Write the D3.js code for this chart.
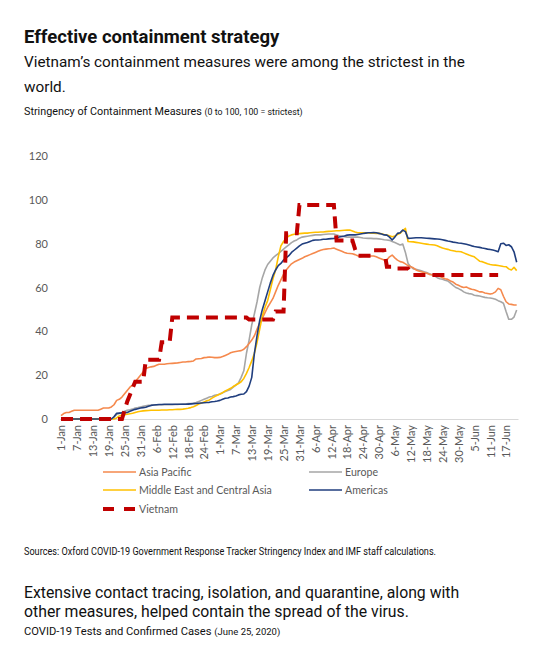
<!DOCTYPE html>
<html><head><meta charset="utf-8">
<script src="https://cdn.jsdelivr.net/npm/d3@7"></script>
<style>
html,body{margin:0;padding:0;background:#fff;}
svg{display:block;}
</style></head>
<body>
<svg id="chart" width="558" height="667"></svg>
<script>
// ---------- data ----------
const startDate = "2020-01-01";
const tickLabels = ["1-Jan","7-Jan","13-Jan","19-Jan","25-Jan","31-Jan","6-Feb","12-Feb","18-Feb","24-Feb","1-Mar","7-Mar","13-Mar","19-Mar","25-Mar","31-Mar","6-Apr","12-Apr","18-Apr","24-Apr","30-Apr","6-May","12-May","18-May","24-May","30-May","5-Jun","11-Jun","17-Jun"];
const yTicks = [0,20,40,60,80,100,120];

// daily values from 1-Jan-2020
const asiaPacific = [1.5,2.5,3,3,3.5,4,4,4,4,4,4,4,4,4,4,
4.5,5,5,5,5.5,6.5,8.5,9,10,11.5,13,14.5,15.5,17,18.5,20,21.5,23,23.5,23.8,24,24.5,25,25,25,25.2,25.3,25.4,25.5,25.6,25.8,26,26,26.2,26.3,26.5,
27.4,27.5,27.6,28,28.1,28.3,28.2,28,28,28.1,28.5,29,29.5,30.2,30.6,30.8,31,31.2,31.8,33,34.5,36,38,41,43.8,46,48.5,51,53,
55,58,61,63.5,66,68,69.5,70.8,71.6,72.2,72.8,73.3,74,74.5,75,75.5,76,76.5,77,77.3,77.5,77.7,77.8,78,77.5,77,76.5,76,75.6,75.5,75.4,75,74.5,74,
74.3,74.5,74.2,74.4,74.4,74,73.5,73,72.5,72.5,74,74.8,73.5,72.5,71.8,71.5,70.8,70,69.5,69,68,67.5,67.2,66.8,66.5,66,65.8,65.7,65.3,65,64.5,64,63.7,
63,62.5,61.5,61,60.4,60,60.2,59.6,59.2,59,58.5,58,58,57.5,57.3,57,57.3,58,59.6,59,56,53.5,52.5,52.3,52,52];

const europe = [0,0,0,0,0,0,0,0,0,0,0,0,0,0,0,0,0,0,0,0,
1,2,2.5,3,3.5,4,4.2,4.5,5,5.2,5.5,5.8,6,6.2,6.3,
6.4,6.4,6.5,6.5,6.5,6.5,6.5,6.5,6.6,6.6,6.7,6.8,6.8,7,7,
7.2,7.5,8,8.5,9,9.5,10,10.3,10.8,11,11.4,12,12.5,13,13.5,14.5,15.5,16.5,
19,22,30,36,43,48,53.5,60,64.5,68,70.5,72,73.5,74.5,75.5,76.5,77.5,78.5,79.5,80.5,
81.2,81.7,82.5,83,83.2,83.4,83.6,83.8,84,84,84,84.2,84.3,84.4,84.4,84.4,84,83.6,83.4,83.2,83,
83,83,83,83,82.8,82.6,82.5,82.4,82.4,82.3,82.3,82.2,82,81.8,81.7,81.5,81,80.5,80,79.4,79.8,
76,71,69.5,68.5,68.3,68,67.6,67.2,66.8,66.3,65.8,65.3,64.5,64,63.8,63.3,63,62,61,60,59.5,58.9,
58,57.5,57.2,57,56.5,56.3,56.1,55.8,55.5,55.3,55.2,55,54.6,54,53.5,52.8,49,45.5,45.5,46.5,49.7];

const middleEast = [0,0,0,0,0,0,0,0,0,0,0,0,0,0,0,0,0,0,0,0,0,
0.5,1.4,1.8,2,2.2,2.4,2.6,3,3.3,3.5,3.7,3.8,3.9,4,
4,4,4,4.1,4.1,4.1,4.2,4.2,4.3,4.4,4.4,4.5,4.7,4.9,5.2,5.6,
6.2,6.8,7.3,7.8,8.3,8.7,9.5,10.2,10.8,11.4,12,12.8,13.4,14,14.8,15.5,16.2,17,18.5,
20.8,23.5,26.5,30,35,41,47,51,54,59,64,68,74,79,81,82.5,83.5,84,84.3,84.5,
84.6,84.7,84.8,84.8,85,85.1,85.2,85.2,85.3,85.3,85.5,85.6,85.7,85.8,85.9,85.9,86,86.1,86.2,86.2,
85.8,85.3,85,85,85,85,84.9,84.8,84.8,84.7,84.7,84.5,84.2,84,83.6,83.2,83.5,84.2,84.7,86,87,
81,80.9,80.8,80.6,80.4,80.2,80,79.8,79.6,79.5,79.4,79,78.5,78,77.7,77.4,77,76.8,76.5,76.4,76.3,
75.8,75.3,74.8,74.4,74,73,72,71.8,71.3,70.8,70.5,70.3,70.2,70,69.8,69.6,69.5,68.5,68,69.2,67.7];

const americas = [0,0,0,0,0,0,0,0,0,0,0,0,0,0,0,0,0,0,0,0,
1,2.6,2.7,2.8,2.9,3,3.5,4,4.4,4.7,5,5.2,5.4,5.8,6.2,6.4,6.5,
6.6,6.6,6.7,6.7,6.7,6.7,6.7,6.7,6.7,6.7,6.7,6.8,6.9,7,7.1,7.2,7.3,7.4,7.5,7.6,
7.9,8,8.2,8.5,9,9.5,9.6,10,10.2,10.5,11,11.3,11.4,12.5,15,19,30,38,45,50,
54,58,62,65.5,68,70,71,72.5,73.5,74.5,76,77,78,79,79.8,80.2,80.5,81,81.5,81.7,
81.7,81.8,82,82,82.2,82.3,82.4,82.6,83,83.3,83.5,83.9,84,84,84,84.2,84.4,84.6,84.8,85,
85,85.1,85,84.7,84.4,84,83.9,83,81.7,83,84.7,85,86.2,85.5,82.4,82.5,82.6,82.7,82.7,82.7,
82.6,82.5,82.4,82.3,82.2,82.1,82,81.8,81.5,81.2,81,80.7,80.5,80.3,80.2,80,79.7,79.4,79,78.7,
78.5,78.3,78,77.8,77.5,77.3,77.1,76.8,76.3,80,80.2,79.2,79.5,78.6,76.3,71.5];

// Vietnam: dates where the index changes, and values
const vietnamDates = ["1-Jan","24-Jan","25-Jan","26-Jan","27-Jan","28-Jan","29-Jan","1-Feb","2-Feb","7-Feb","8-Feb","11-Feb","12-Feb","11-Mar","12-Mar","21-Mar","22-Mar","25-Mar","26-Mar","30-Mar","31-Mar","13-Apr","14-Apr","20-Apr","21-Apr","22-Apr","27-Apr","28-Apr","2-May","3-May","6-May","7-May","11-May","12-May","13-May","14-Jun"];
const vietnamValues = [0,0,4,8,11,14,17,17,27,27,35,35,46.3,46.3,45.4,45.4,49,49,84.7,84.7,97.6,97.6,81.5,81.5,77.5,74.5,74.5,77,77,69.5,69.5,68.7,68.7,67,65.7,65.7];

const seriesNames = ["Asia Pacific","Europe","Middle East and Central Asia","Americas","Vietnam"];
const seriesColors = ["#F5894D","#A6A6A6","#FFC000","#203E7E","#C00000"];

// ---------- drawing ----------
const svg = d3.select("#chart");
const parseD = d3.timeParse("%d-%b-%Y");
const d0 = d3.timeParse("%Y-%m-%d")(startDate);
const dayOf = i => d3.timeDay.offset(d0, i);
const lbl = s => parseD(s + "-2020");

const nDays = asiaPacific.length;
const x = d3.scaleTime()
  .domain([d3.timeHour.offset(d0, -12), d3.timeHour.offset(dayOf(nDays - 1), 12)])
  .range([59.7, 518]);
const y = d3.scaleLinear().domain([0, 120]).range([419, 156]);

const font = "Roboto, 'Noto Sans', sans-serif";
const axisFont = "Lato, Carlito, sans-serif";

// titles
svg.append("text").attr("x", 24).attr("y", 43).attr("font-family", font)
  .attr("font-weight", 700).attr("font-size", 18.5).attr("fill", "#111")
  .text("Effective containment strategy");
svg.append("text").attr("x", 24).attr("y", 67).attr("font-family", font)
  .attr("font-size", 15.3).attr("fill", "#111")
  .text("Vietnam\u2019s containment measures were among the strictest in the");
svg.append("text").attr("x", 24).attr("y", 92).attr("font-family", font)
  .attr("font-size", 15.3).attr("fill", "#111").text("world.");
const st = svg.append("text").attr("x", 24).attr("y", 115).attr("font-family", font)
  .attr("font-size", 10.8).attr("fill", "#111");
st.append("tspan").text("Stringency of Containment Measures ");
st.append("tspan").attr("font-size", 8.8).text("(0 to 100, 100 = strictest)");

// axes
const gx = svg.append("g").attr("transform", `translate(0,${y(0)})`)
  .call(d3.axisBottom(x).tickValues(tickLabels.map(lbl)).tickSize(0)
    .tickFormat((d, i) => tickLabels[i]));
gx.select(".domain").attr("stroke", "#D9D9D9").attr("stroke-width", 1.2);
gx.selectAll("text").attr("font-family", axisFont).attr("font-size", 11)
  .attr("fill", "#595959")
  .attr("transform", "rotate(-90)").attr("text-anchor", "end")
  .attr("x", -6).attr("y", 0).attr("dy", "0.35em");

const gy = svg.append("g").attr("transform", "translate(48,0)")
  .call(d3.axisLeft(y).tickValues(yTicks).tickSize(0).tickPadding(0));
gy.select(".domain").remove();
gy.selectAll("text").attr("font-family", axisFont).attr("font-size", 11).attr("fill", "#595959");

// lines
const line = d3.line().x(d => x(d[0])).y(d => y(d[1]));
const regional = [asiaPacific, europe, middleEast, americas];
const drawOrder = [1, 0, 2, 3];
drawOrder.forEach(k => {
  const pts = regional[k].map((v, i) => [dayOf(i), v]);
  svg.append("path").datum(pts).attr("d", line).attr("fill", "none")
    .attr("stroke", seriesColors[k]).attr("stroke-width", 1.6)
    .attr("stroke-linejoin", "round");
});
const vnPts = vietnamDates.map((s, i) => [lbl(s), vietnamValues[i]]);
svg.append("path").datum(vnPts).attr("d", line).attr("fill", "none")
  .attr("stroke", seriesColors[4]).attr("stroke-width", 4)
  .attr("stroke-dasharray", "12,7");

// legend
const legPos = [[103, 472], [309, 472], [103, 490], [309, 490], [103, 509]];
seriesNames.forEach((name, k) => {
  const [lx, ly] = legPos[k];
  const g = svg.append("g");
  if (k === 4) {
    g.append("line").attr("x1", lx).attr("x2", lx + 32).attr("y1", ly).attr("y2", ly)
      .attr("stroke", seriesColors[k]).attr("stroke-width", 4).attr("stroke-dasharray", "11,10");
  } else {
    g.append("line").attr("x1", lx).attr("x2", lx + 33).attr("y1", ly).attr("y2", ly)
      .attr("stroke", seriesColors[k]).attr("stroke-width", 1.6);
  }
  g.append("text").attr("x", lx + 36).attr("y", ly).attr("dy", "0.35em")
    .attr("font-family", axisFont).attr("font-size", 10.6).attr("fill", "#595959").text(name);
});

// footer
svg.append("text").attr("x", 24).attr("y", 555).attr("font-family", font)
  .attr("font-size", 10).attr("fill", "#111")
  .attr("textLength", 412).attr("lengthAdjust", "spacingAndGlyphs")
  .text("Sources: Oxford COVID-19 Government Response Tracker Stringency Index and IMF staff calculations.");
svg.append("text").attr("x", 24).attr("y", 598).attr("font-family", font)
  .attr("font-size", 15.8).attr("fill", "#111")
  .text("Extensive contact tracing, isolation, and quarantine, along with");
svg.append("text").attr("x", 24).attr("y", 617).attr("font-family", font)
  .attr("font-size", 15.8).attr("fill", "#111")
  .text("other measures, helped contain the spread of the virus.");
const ft = svg.append("text").attr("x", 24).attr("y", 635).attr("font-family", font)
  .attr("font-size", 11.2).attr("fill", "#111");
ft.append("tspan").text("COVID-19 Tests and Confirmed Cases ");
ft.append("tspan").attr("font-size", 9.5).text("(June 25, 2020)");
</script>
</body></html>
